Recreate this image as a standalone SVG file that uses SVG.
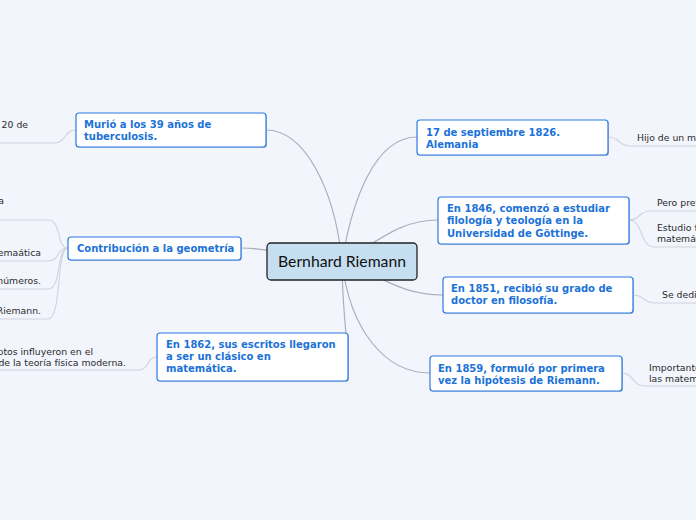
<svg xmlns="http://www.w3.org/2000/svg" width="696" height="520" viewBox="0 0 696 520">
<style>
.bg{fill:#f3f5fd}
.node rect.box{fill:#ffffff;stroke:#2a7ae2;stroke-width:1.2}
.node rect.sh{fill:#b9c2d6}
.nt{font-family:"DejaVu Sans",Verdana,sans-serif;font-size:10px;font-weight:bold;fill:#1b72d8}
.lt{font-family:"DejaVu Sans",Verdana,sans-serif;font-size:9.3px;fill:#2a2a2a}
.main{fill:none;stroke:#a9afbd;stroke-width:1.2}
.leaf{fill:none;stroke:#cfd3dc;stroke-width:1.1}
</style>
<rect class="bg" x="0" y="0" width="696" height="520"/>

<g id="connectors">
  <path class="main" d="M342,262 C335,190 305,130 266,130"/>
  <path class="main" d="M342,262 C300,262 280,248 241,248"/>
  <path class="main" d="M342,262 C342,300 346,330 348,357"/>
  <path class="main" d="M342,262 C352,200 375,137 417,137"/>
  <path class="main" d="M342,262 C380,240 400,220 438,220"/>
  <path class="main" d="M342,262 C380,275 400,295 443,295"/>
  <path class="main" d="M342,262 C350,330 385,373 430,373"/>

  <path class="leaf" d="M76,130 C64,130 66,143 54,143 L0,143"/>
  <path class="leaf" d="M68,248 C56,248 62,220 48,220 L0,220"/>
  <path class="leaf" d="M68,248 C56,248 60,261 48,261 L0,261"/>
  <path class="leaf" d="M68,248 C56,248 62,289 48,289 L0,289"/>
  <path class="leaf" d="M68,248 C56,248 62,319 48,319 L0,319"/>
  <path class="leaf" d="M157,357 C146,357 150,370 138,370 L0,370"/>
  <path class="leaf" d="M608,137 C620,137 618,146 630,146 L696,146"/>
  <path class="leaf" d="M629,220 C641,220 638,211 650,211 L696,211"/>
  <path class="leaf" d="M629,220 C643,220 640,247 654,247 L696,247"/>
  <path class="leaf" d="M633,295 C645,295 643,303 655,303 L696,303"/>
  <path class="leaf" d="M622,373 C634,373 632,386 645,386 L696,386"/>
</g>

<g id="center">
  <rect x="267" y="243" width="150" height="37" rx="4" fill="#c5dff0" stroke="#222222" stroke-width="1.3"/>
  <text x="342" y="267" text-anchor="middle" font-family="Lato, 'Liberation Sans', sans-serif" font-size="15" fill="#111111" textLength="128" lengthAdjust="spacingAndGlyphs">Bernhard Riemann</text>
</g>

<g id="n-murio" class="node">
  <rect class="sh" x="77" y="114" width="190" height="34" rx="3"/>
  <rect class="box" x="76" y="113" width="190" height="34" rx="3"/>
  <text class="nt" x="84" y="128">Murió a los 39 años de</text>
  <text class="nt" x="84" y="140">tuberculosis.</text>
</g>

<g id="n-contrib" class="node">
  <rect class="sh" x="69" y="238" width="173" height="23" rx="3"/>
  <rect class="box" x="68" y="237" width="173" height="23" rx="3"/>
  <text class="nt" x="77" y="252">Contribución a la geometría</text>
</g>

<g id="n-1862" class="node">
  <rect class="sh" x="158" y="334" width="191" height="48" rx="3"/>
  <rect class="box" x="157" y="333" width="191" height="48" rx="3"/>
  <text class="nt" x="166" y="348">En 1862, sus escritos llegaron</text>
  <text class="nt" x="166" y="360">a ser un clásico en</text>
  <text class="nt" x="166" y="372">matemática.</text>
</g>

<g id="n-1826" class="node">
  <rect class="sh" x="418" y="121" width="191" height="35" rx="3"/>
  <rect class="box" x="417" y="120" width="191" height="35" rx="3"/>
  <text class="nt" x="426" y="136">17 de septiembre 1826.</text>
  <text class="nt" x="426" y="148">Alemania</text>
</g>

<g id="n-1846" class="node">
  <rect class="sh" x="439" y="198" width="191" height="47" rx="3"/>
  <rect class="box" x="438" y="197" width="191" height="47" rx="3"/>
  <text class="nt" x="447" y="212">En 1846, comenzó a estudiar</text>
  <text class="nt" x="447" y="224">filología y teología en la</text>
  <text class="nt" x="447" y="237">Universidad de Göttinge.</text>
</g>

<g id="n-1851" class="node">
  <rect class="sh" x="444" y="278" width="190" height="36" rx="3"/>
  <rect class="box" x="443" y="277" width="190" height="36" rx="3"/>
  <text class="nt" x="451" y="292">En 1851, recibió su grado de</text>
  <text class="nt" x="451" y="304">doctor en filosofía.</text>
</g>

<g id="n-1859" class="node">
  <rect class="sh" x="431" y="357" width="192" height="35" rx="3"/>
  <rect class="box" x="430" y="356" width="192" height="35" rx="3"/>
  <text class="nt" x="438" y="372">En 1859, formuló por primera</text>
  <text class="nt" x="438" y="384">vez la hipótesis de Riemann.</text>
</g>

<g id="leaves">
  <text class="lt" x="28" y="128" text-anchor="end">20 de</text>
  <text class="lt" x="4" y="204" text-anchor="end">a</text>
  <text class="lt" x="41" y="256" text-anchor="end">emaática</text>
  <text class="lt" x="41" y="284" text-anchor="end">números.</text>
  <text class="lt" x="41" y="314" text-anchor="end">Riemann.</text>
  <text class="lt" x="93" y="355" text-anchor="end">ptos influyeron en el</text>
  <text class="lt" x="126" y="366" text-anchor="end">de la teoría física moderna.</text>
  <text class="lt" x="637" y="141">Hijo de un mi</text>
  <text class="lt" x="657" y="206">Pero pref</text>
  <text class="lt" x="657" y="231">Estudio f</text>
  <text class="lt" x="657" y="242">matemát</text>
  <text class="lt" x="662" y="298">Se dedi</text>
  <text class="lt" x="649" y="371">Importante</text>
  <text class="lt" x="649" y="382">las matem</text>
</g>
</svg>
